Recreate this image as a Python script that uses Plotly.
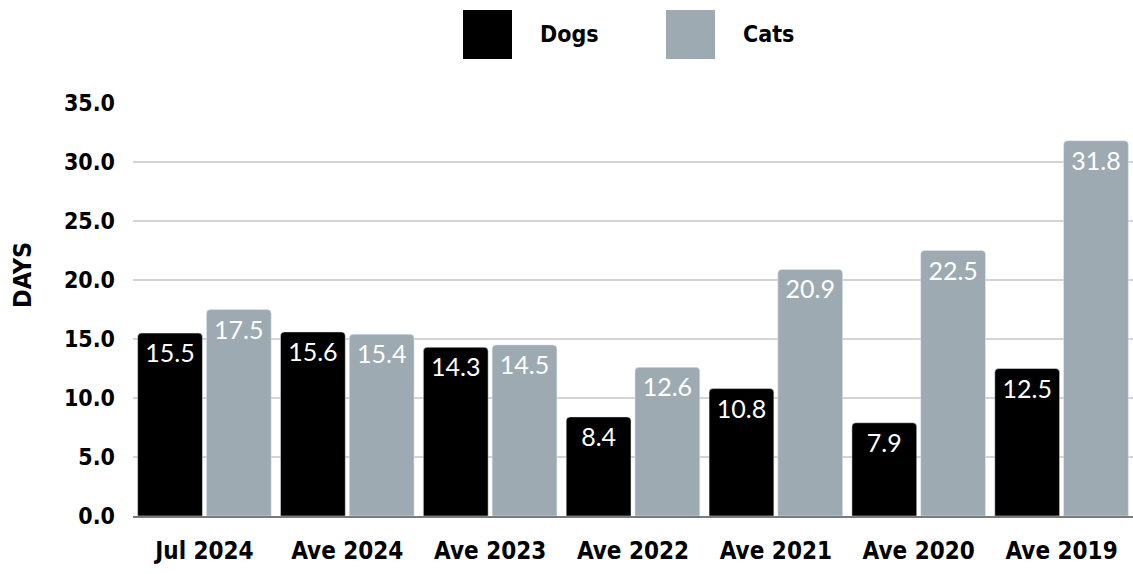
import plotly.graph_objects as go

categories = ["Jul 2024", "Ave 2024", "Ave 2023", "Ave 2022", "Ave 2021", "Ave 2020", "Ave 2019"]
dogs = [15.5, 15.6, 14.3, 8.4, 10.8, 7.9, 12.5]
cats = [17.5, 15.4, 14.5, 12.6, 20.9, 22.5, 31.8]
y_ticks = [0, 5, 10, 15, 20, 25, 30, 35]
y_tick_labels = ["0.0", "5.0", "10.0", "15.0", "20.0", "25.0", "30.0", "35.0"]

DOG_C = "#000000"
CAT_C = "#9DAAB2"
COND = "DejaVu Sans Condensed, DejaVu Sans"

fig = go.Figure()
for name, vals, col in [("Dogs", dogs, DOG_C), ("Cats", cats, CAT_C)]:
    fig.add_trace(go.Bar(
        x=categories, y=vals, name=name, marker=dict(color=col, cornerradius=4),
        text=[f"{v:.1f}" for v in vals], textposition="inside", insidetextanchor="end",
        textfont=dict(family="Lato", size=25, color="white"), cliponaxis=False,
        showlegend=False, textangle=0,
    ))

W, H = 1133, 574
L, R, T, B = 133, 0, 103, 58
pw, ph = W - L - R, H - T - B

fig.update_layout(
    width=W, height=H,
    margin=dict(l=L, r=R, t=T, b=B, autoexpand=False),
    paper_bgcolor="white", plot_bgcolor="white",
    barmode="group", bargap=0.037, bargroupgap=0.058,
    uniformtext=dict(minsize=25, mode="show"),
    xaxis=dict(showgrid=False, showline=True, linecolor="#7a7a7a", linewidth=2,
               tickfont=dict(family=COND, size=24, color="black", weight="bold"),
               ticks="", ticklabelstandoff=12, automargin=False),
    yaxis=dict(range=[0, 35], tickvals=y_ticks, ticktext=y_tick_labels,
               showgrid=True, gridcolor="#d4d4d4", gridwidth=2, zeroline=False,
               tickfont=dict(family=COND, size=23, color="black", weight="bold"),
               ticklabelstandoff=17, showline=False, automargin=False),
    font=dict(family=COND, color="black"),
)

fig.add_annotation(text="DAYS", x=(22 - L) / pw, xref="paper", y=(H - B - 275) / ph, yref="paper",
                   textangle=-90, showarrow=False,
                   font=dict(family=COND, size=25, weight="bold", color="black"),
                   xanchor="center", yanchor="middle")

# legend drawn as shapes + text
legend_items = [("Dogs", DOG_C, 463), ("Cats", CAT_C, 666)]
for name, col, px in legend_items:
    fig.add_shape(type="rect", xref="paper", yref="paper",
                  x0=(px - L) / pw, x1=(px + 49 - L) / pw,
                  y0=(H - B - 59) / ph, y1=(H - B - 10) / ph,
                  fillcolor=col, line=dict(width=0))
    fig.add_annotation(text=name, xref="paper", yref="paper",
                       x=(px + 75 - L) / pw, y=(H - B - 34) / ph,
                       xanchor="left", yanchor="middle", showarrow=False,
                       font=dict(family=COND, size=23, weight="bold", color="black"))

fig.write_html("out.html", config={"displayModeBar": False},
               post_script="document.body.style.margin='0px';document.body.style.padding='0px';")
